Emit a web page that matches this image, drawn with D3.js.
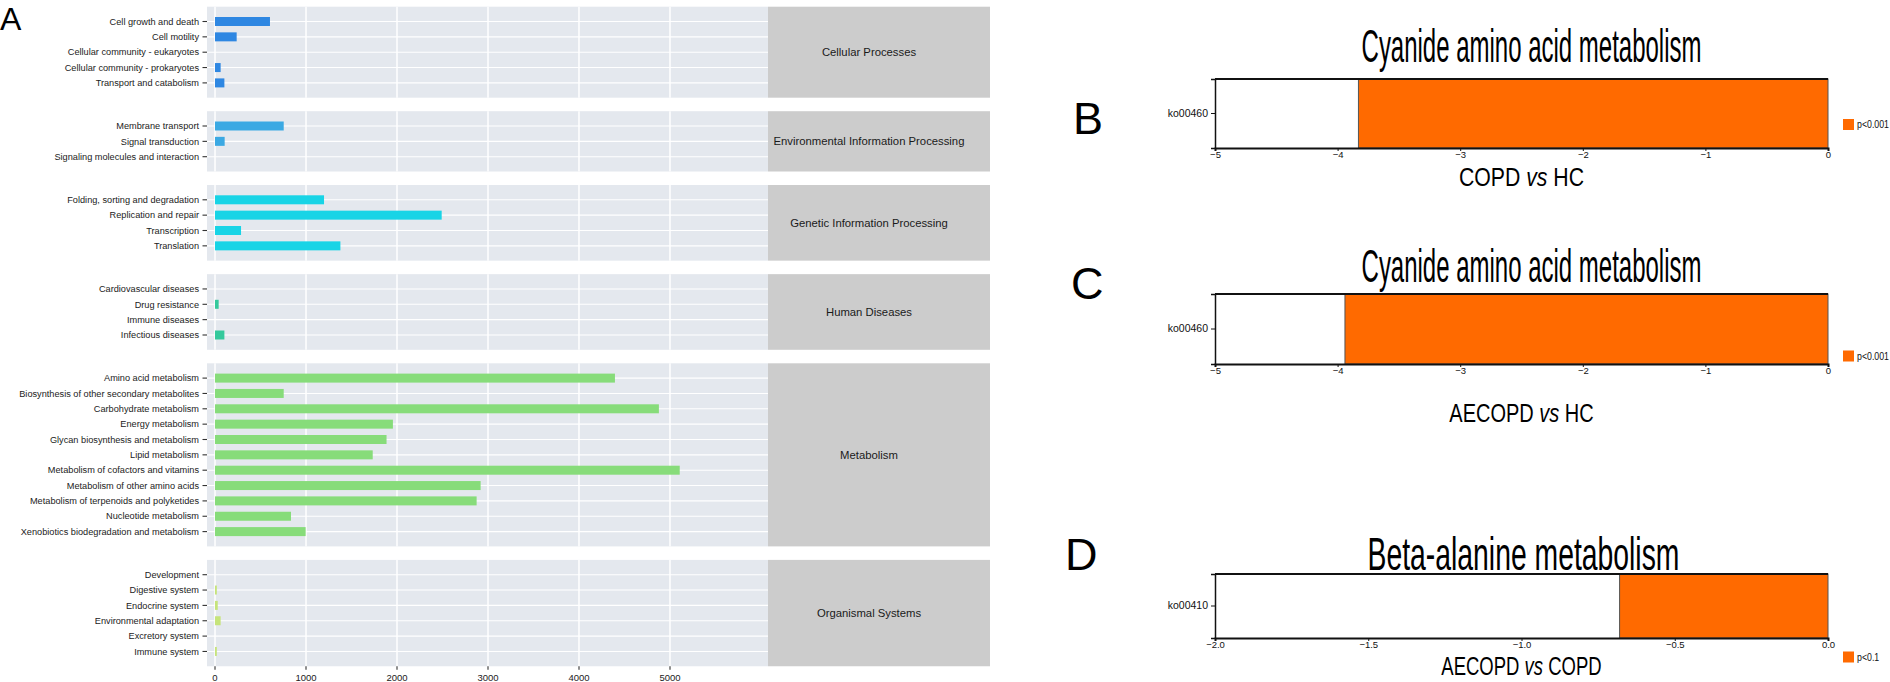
<!DOCTYPE html>
<html>
<head>
<meta charset="utf-8">
<title>KEGG pathway abundance and differential pathways</title>
<script src="https://cdn.jsdelivr.net/npm/d3@7/dist/d3.min.js"></script>
<style>
  body { margin: 0; background: #fff; }
  text { font-family: "Liberation Sans", Arial, Helvetica, sans-serif; }
</style>
</head>
<body>
<script>
// ---- panel A data ----
var groups = ["Cellular Processes", "Environmental Information Processing", "Genetic Information Processing",
              "Human Diseases", "Metabolism", "Organismal Systems"];
var groupColors = ["#2E87E2", "#3BA9E3", "#18D4E6", "#34C99C", "#87DC7A", "#C6E47B"];

var cellularCats = ["Cell growth and death", "Cell motility", "Cellular community - eukaryotes",
                    "Cellular community - prokaryotes", "Transport and catabolism"];
var cellularVals = [604, 238, 0, 62, 103];

var envCats = ["Membrane transport", "Signal transduction", "Signaling molecules and interaction"];
var envVals = [755, 106, 0];

var geneticCats = ["Folding, sorting and degradation", "Replication and repair", "Transcription", "Translation"];
var geneticVals = [1198, 2491, 286, 1378];

var diseaseCats = ["Cardiovascular diseases", "Drug resistance", "Immune diseases", "Infectious diseases"];
var diseaseVals = [0, 40, 0, 103];

var metabCats = ["Amino acid metabolism", "Biosynthesis of other secondary metabolites", "Carbohydrate metabolism",
                 "Energy metabolism", "Glycan biosynthesis and metabolism", "Lipid metabolism",
                 "Metabolism of cofactors and vitamins", "Metabolism of other amino acids",
                 "Metabolism of terpenoids and polyketides", "Nucleotide metabolism",
                 "Xenobiotics biodegradation and metabolism"];
var metabVals = [4395, 755, 4878, 1955, 1885, 1733, 5107, 2919, 2875, 835, 996];

var organCats = ["Development", "Digestive system", "Endocrine system", "Environmental adaptation",
                 "Excretory system", "Immune system"];
var organVals = [0, 20, 30, 62, 0, 20];

var xTicksA = [0, 1000, 2000, 3000, 4000, 5000];

// ---- panels B-D data ----
var diffLetters = ["B", "C", "D"];
var diffTitles = ["Cyanide amino acid metabolism", "Cyanide amino acid metabolism", "Beta-alanine metabolism"];
var diffIds = ["ko00460", "ko00460", "ko00410"];
var diffValues = [-3.83, -3.94, -0.68];
var diffPvals = ["p<0.001", "p<0.001", "p<0.1"];
var diffGroup1 = ["COPD", "AECOPD", "AECOPD"];
var diffGroup2 = ["HC", "HC", "COPD"];
var diffMin = [-5, -5, -2];
var diffTickFormat = ["d", "d", ".1f"];

var catLists = [cellularCats, envCats, geneticCats, diseaseCats, metabCats, organCats];
var valLists = [cellularVals, envVals, geneticVals, diseaseVals, metabVals, organVals];

var W = 1890, H = 682;
var svg = d3.select("body").append("svg").attr("width", W).attr("height", H);

// ================= panel A =================
var x = d3.scaleLinear().domain([-88, 6077]).range([207, 768]);
var step = 15.35, pad = 14.8, gap = 13.5;
var stripW = 222;
var cursor = 6.7;

svg.append("text").attr("x", 0).attr("y", 30).attr("font-size", 32).attr("fill", "#000").text("A");

groups.forEach(function (g, gi) {
    var cats = catLists[gi], vals = valLists[gi];
    var top = cursor;
    var h = 2 * pad + (cats.length - 1) * step;
    var y = d3.scalePoint().domain(cats).range([top + pad, top + pad + (cats.length - 1) * step]);
    cursor = top + h + gap;

    var p = svg.append("g");
    p.append("rect").attr("x", x.range()[0]).attr("y", top)
        .attr("width", x.range()[1] - x.range()[0]).attr("height", h).attr("fill", "#E4E8EE");

    p.selectAll("line.v").data(xTicksA).enter().append("line")
        .attr("x1", function (d) { return x(d); }).attr("x2", function (d) { return x(d); })
        .attr("y1", top).attr("y2", top + h)
        .attr("stroke", "#fff").attr("stroke-width", 1.5);

    p.selectAll("line.h").data(cats).enter().append("line")
        .attr("x1", x.range()[0]).attr("x2", x.range()[1])
        .attr("y1", function (d) { return y(d); }).attr("y2", function (d) { return y(d); })
        .attr("stroke", "#fff").attr("stroke-width", 1.1);

    p.selectAll("rect.bar").data(cats).enter().append("rect")
        .attr("x", x(0))
        .attr("y", function (d) { return y(d) - 4.5; })
        .attr("width", function (d, i) { return x(vals[i]) - x(0); })
        .attr("height", 9)
        .attr("fill", groupColors[gi]);

    // y axis ticks + labels
    p.selectAll("line.t").data(cats).enter().append("line")
        .attr("x1", 202.5).attr("x2", 207)
        .attr("y1", function (d) { return y(d); }).attr("y2", function (d) { return y(d); })
        .attr("stroke", "#333").attr("stroke-width", 1.1);
    p.selectAll("text.lab").data(cats).enter().append("text")
        .attr("x", 199).attr("y", function (d) { return y(d); })
        .attr("dy", "0.35em").attr("text-anchor", "end")
        .attr("font-size", 9.2).attr("fill", "#222")
        .text(function (d) { return d; });

    // strip
    p.append("rect").attr("x", x.range()[1]).attr("y", top)
        .attr("width", stripW).attr("height", h).attr("fill", "#CCCCCC");
    p.append("text").attr("x", x.range()[1] + stripW / 2 - 10).attr("y", top + h / 2)
        .attr("dy", "0.35em").attr("text-anchor", "middle")
        .attr("font-size", 11.3).attr("fill", "#1a1a1a").text(g);
});

var axisY = cursor - gap;
svg.selectAll("line.xt").data(xTicksA).enter().append("line")
    .attr("x1", function (d) { return x(d); }).attr("x2", function (d) { return x(d); })
    .attr("y1", axisY).attr("y2", axisY + 3.5)
    .attr("stroke", "#333").attr("stroke-width", 1.1);
svg.selectAll("text.xl").data(xTicksA).enter().append("text")
    .attr("x", function (d) { return x(d); }).attr("y", axisY + 14.5)
    .attr("text-anchor", "middle").attr("font-size", 9.5).attr("fill", "#222")
    .text(function (d) { return d; });

// ================= panels B-D =================
var boxTop = [79, 294, 574];
var boxH = [69, 70, 64];
var titleY = [62, 282, 570];
var titleW = [340, 340, 312];
var titleDx = [10, 10, 2];
var letterY = [134, 299, 570];
var letterX = [1073, 1071, 1065];
var xlabDy = [38, 58, 37];
var xlabSx = [0.85, 0.8, 0.74];
var legendY = [124.5, 356, 657];
var bx = [1215, 1828];

// squeeze a text horizontally so it spans the wanted width
function squeeze(sel, x0, y0, width) {
    var L = sel.node().getComputedTextLength();
    return sel.attr("transform", "translate(" + x0 + "," + y0 + ") scale(" + (width / L) + ",1)");
}
function condensed(sel, x0, y0, sx) {
    return sel.attr("transform", "translate(" + x0 + "," + y0 + ") scale(" + sx + ",1)");
}

diffTitles.forEach(function (t, i) {
    var top = boxTop[i], bottom = top + boxH[i];
    var xs = d3.scaleLinear().domain([diffMin[i], 0]).range(bx);
    var g = svg.append("g");
    var cx = (bx[0] + bx[1]) / 2;

    g.append("text").attr("x", letterX[i]).attr("y", letterY[i])
        .attr("font-size", 45).attr("fill", "#000").text(diffLetters[i]);

    var tt = g.append("text").attr("text-anchor", "middle").attr("font-size", 46)
        .attr("fill", "#000").text(t);
    squeeze(tt, cx + titleDx[i], titleY[i], titleW[i]);

    g.append("rect").attr("x", bx[0]).attr("y", top).attr("width", bx[1] - bx[0]).attr("height", boxH[i])
        .attr("fill", "#fff");
    g.append("rect").attr("x", xs(diffValues[i])).attr("y", top)
        .attr("width", xs(0) - xs(diffValues[i])).attr("height", boxH[i])
        .attr("fill", "#FF6A00").attr("stroke", "#555").attr("stroke-width", 1);
    g.append("line").attr("x1", bx[0]).attr("x2", bx[1]).attr("y1", top).attr("y2", top)
        .attr("stroke", "#111").attr("stroke-width", 2);

    var ax = g.append("g").attr("transform", "translate(0," + bottom + ")")
        .call(d3.axisBottom(xs).ticks(diffMin[i] === -2 ? 4 : 5).tickSize(3).tickPadding(1)
            .tickFormat(d3.format(diffTickFormat[i])));
    ax.select(".domain").attr("stroke", "#111").attr("stroke-width", 2);
    ax.selectAll(".tick line").attr("stroke", "#111");
    ax.selectAll(".tick text").attr("font-size", 9.5).attr("fill", "#111").attr("dy", "0.62em");

    var ay = g.append("g").attr("transform", "translate(" + bx[0] + ",0)")
        .call(d3.axisLeft(d3.scaleBand().domain([diffIds[i]]).range([top, bottom])).tickSize(4));
    ay.select(".domain").attr("stroke", "#111").attr("stroke-width", 1.5);
    ay.selectAll(".tick line").attr("stroke", "#111");
    ay.selectAll(".tick text").attr("font-size", 10.5).attr("fill", "#111");

    // legend
    var ly = legendY[i];
    g.append("rect").attr("x", 1843).attr("y", ly - 5.5).attr("width", 11).attr("height", 11).attr("fill", "#FF6A00");
    condensed(g.append("text"), 1857, ly, 0.88).attr("dy", "0.35em")
        .attr("font-size", 10).attr("fill", "#111").text(diffPvals[i]);

    // x label with italic vs
    var xl = condensed(g.append("text"), cx, bottom + xlabDy[i], xlabSx[i])
        .attr("text-anchor", "middle").attr("font-size", 25).attr("fill", "#000");
    xl.append("tspan").text(diffGroup1[i] + " ");
    xl.append("tspan").attr("font-style", "italic").text("vs");
    xl.append("tspan").text(" " + diffGroup2[i]);
});
</script>
</body>
</html>
